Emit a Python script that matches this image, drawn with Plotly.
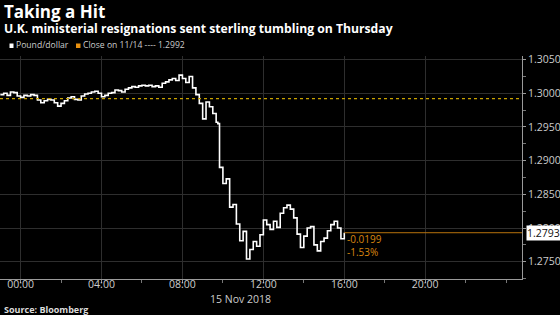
import plotly.graph_objects as go

times = [
"2018-11-14 23:00","2018-11-14 23:10","2018-11-14 23:20","2018-11-14 23:30","2018-11-14 23:40","2018-11-14 23:50",
"2018-11-15 00:00","2018-11-15 00:10","2018-11-15 00:20","2018-11-15 00:30","2018-11-15 00:40","2018-11-15 00:50",
"2018-11-15 01:00","2018-11-15 01:10","2018-11-15 01:20","2018-11-15 01:30","2018-11-15 01:40","2018-11-15 01:50",
"2018-11-15 02:00","2018-11-15 02:10","2018-11-15 02:20","2018-11-15 02:30","2018-11-15 02:40","2018-11-15 02:50",
"2018-11-15 03:00","2018-11-15 03:10","2018-11-15 03:20","2018-11-15 03:30","2018-11-15 03:40","2018-11-15 03:50",
"2018-11-15 04:00","2018-11-15 04:10","2018-11-15 04:20","2018-11-15 04:30","2018-11-15 04:40","2018-11-15 04:50",
"2018-11-15 05:00","2018-11-15 05:10","2018-11-15 05:20","2018-11-15 05:30","2018-11-15 05:40","2018-11-15 05:50",
"2018-11-15 06:00","2018-11-15 06:10","2018-11-15 06:20","2018-11-15 06:30","2018-11-15 06:40","2018-11-15 06:50",
"2018-11-15 07:00","2018-11-15 07:10","2018-11-15 07:20","2018-11-15 07:30","2018-11-15 07:40","2018-11-15 07:50",
"2018-11-15 08:00","2018-11-15 08:10","2018-11-15 08:20","2018-11-15 08:30","2018-11-15 08:40","2018-11-15 08:50",
"2018-11-15 09:00","2018-11-15 09:10","2018-11-15 09:20","2018-11-15 09:30","2018-11-15 09:40","2018-11-15 09:45",
"2018-11-15 09:50","2018-11-15 10:00","2018-11-15 10:10","2018-11-15 10:20","2018-11-15 10:30","2018-11-15 10:40",
"2018-11-15 10:50","2018-11-15 11:00","2018-11-15 11:10","2018-11-15 11:20","2018-11-15 11:30","2018-11-15 11:40",
"2018-11-15 11:50","2018-11-15 12:00","2018-11-15 12:10","2018-11-15 12:20","2018-11-15 12:30","2018-11-15 12:40",
"2018-11-15 12:50","2018-11-15 13:00","2018-11-15 13:10","2018-11-15 13:20","2018-11-15 13:30","2018-11-15 13:40",
"2018-11-15 13:50","2018-11-15 14:00","2018-11-15 14:10","2018-11-15 14:20","2018-11-15 14:30","2018-11-15 14:40",
"2018-11-15 14:50","2018-11-15 15:00","2018-11-15 15:10","2018-11-15 15:20","2018-11-15 15:30","2018-11-15 15:40",
"2018-11-15 15:50","2018-11-15 16:00",
]
pound_dollar = [
1.2998,1.3000,1.2997,1.3002,1.3001,1.2996,
1.2994,1.2997,1.2996,1.2998,1.2997,1.2990,
1.2986,1.2989,1.2991,1.2990,1.2986,1.2981,
1.2985,1.2989,1.2993,1.2995,1.2991,1.2990,
1.2996,1.2999,1.3000,1.3002,1.3003,1.3000,
1.2995,1.2997,1.3000,1.3001,1.3005,1.3004,
1.3002,1.3006,1.3008,1.3010,1.3009,1.3011,
1.3012,1.3011,1.3012,1.3010,1.3011,1.3009,
1.3015,1.3017,1.3020,1.3022,1.3019,1.3027,
1.3022,1.3016,1.3025,1.3008,1.2998,1.2985,
1.2962,1.2987,1.2980,1.2970,1.2957,1.2955,
1.2890,1.2866,1.2873,1.2831,1.2835,1.2806,
1.2781,1.2795,1.2754,1.2768,1.2780,1.2773,
1.2790,1.2812,1.2805,1.2798,1.2810,1.2801,
1.2822,1.2830,1.2834,1.2828,1.2815,1.2791,
1.2771,1.2788,1.2800,1.2802,1.2775,1.2766,
1.2780,1.2785,1.2796,1.2805,1.2810,1.2800,
1.2784,1.2793,
]
prev_close = 1.2992
last_value = 1.2793
change_abs = "-0.0199"
change_pct = "-1.53%"
y_ticks = [1.2750, 1.2800, 1.2850, 1.2900, 1.2950, 1.3000, 1.3050]
x_ticks = ["2018-11-15 00:00","2018-11-15 04:00","2018-11-15 08:00","2018-11-15 12:00","2018-11-15 16:00","2018-11-15 20:00"]
x_tick_labels = ["00:00","04:00","08:00","12:00","16:00","20:00"]
x_range = ["2018-11-14 22:59","2018-11-16 00:47"]
y_range = [1.27243, 1.30554]

W, H = 560, 315
L, R, T, B = 0, 38, 56, 36
PW, PH = W - L - R, H - T - B
def px(x): return (x - L) / PW
def py(y): return (H - B - y) / PH

FONT = "Open Sans"
ORANGE = "#d9860f"

fig = go.Figure()
fig.add_trace(go.Scatter(x=times, y=pound_dollar, mode="lines", line=dict(color="white", width=1.6, shape="hv"), showlegend=False))
fig.add_trace(go.Scatter(x=[times[-1], x_range[1]], y=[last_value, last_value], mode="lines",
                         line=dict(color="#b8720c", width=1), showlegend=False))

fig.add_shape(type="line", xref="paper", yref="y", x0=0, x1=1, y0=prev_close, y1=prev_close,
              line=dict(color="#c9a200", width=1.2, dash="dot"))

ann = []
ann.append(dict(text="<b>Taking a Hit</b>", x=px(2), y=py(11), xanchor="left", yanchor="middle",
                font=dict(family=FONT, size=17, color="white")))
ann.append(dict(text="<b>U.K. ministerial resignations sent sterling tumbling on Thursday</b>", x=px(2), y=py(28.5),
                xanchor="left", yanchor="middle", font=dict(family=FONT, size=12.2, color="white")))
ann.append(dict(text="Pound/dollar", x=px(14), y=py(45.5), xanchor="left", yanchor="middle",
                font=dict(family=FONT, size=8.6, color="#cccccc")))
ann.append(dict(text="Close on 11/14 ---- " + f"{prev_close:.4f}", x=px(81), y=py(45.5), xanchor="left", yanchor="middle",
                font=dict(family=FONT, size=8.6, color="#cccccc")))
ann.append(dict(text="<b>Source: Bloomberg</b>", x=px(2), y=py(309.5), xanchor="left", yanchor="middle",
                font=dict(family=FONT, size=9, color="#dddddd")))
ann.append(dict(text="15 Nov 2018", x=px(273), y=py(298.5), xanchor="right", yanchor="middle",
                font=dict(family=FONT, size=10.5, color="#cccccc")))
ann.append(dict(text=change_abs, x=times[-1], xref="x", y=py(238.5), xanchor="left", yanchor="middle", xshift=1,
                font=dict(family=FONT, size=10, color=ORANGE)))
ann.append(dict(text=change_pct, x=times[-1], xref="x", y=py(251.5), xanchor="left", yanchor="middle", xshift=1,
                font=dict(family=FONT, size=10, color=ORANGE)))
ann.append(dict(text=f"{last_value:.4f}", x=1, y=last_value, yref="y", xanchor="left", yanchor="middle", xshift=4,
                bgcolor="white", borderpad=0, font=dict(family=FONT, size=10.5, color="#111111")))
for a in ann:
    a.setdefault("xref", "paper")
    a.setdefault("yref", "paper")
    a["showarrow"] = False
fig.update_layout(annotations=ann)

fig.add_shape(type="rect", xref="paper", yref="paper", x0=px(9.5), x1=px(13.5), y0=py(48), y1=py(43.5),
              fillcolor="white", line=dict(width=0))
fig.add_shape(type="rect", xref="paper", yref="paper", x0=px(76), x1=px(80.5), y0=py(48), y1=py(43.5),
              fillcolor="#e8900f", line=dict(width=0))

fig.update_layout(
    width=W, height=H, margin=dict(l=L, r=R, t=T, b=B),
    paper_bgcolor="black", plot_bgcolor="black",
    xaxis=dict(type="date", range=x_range, tickvals=x_ticks, ticktext=x_tick_labels,
               showgrid=True, gridcolor="#2e2e2e", gridwidth=1,
               showline=True, linecolor="#9a9a9a", linewidth=1,
               ticks="outside", ticklen=3, tickcolor="#9a9a9a", ticklabelstandoff=-8,
               minor=dict(dtick=7200000, ticks="outside", ticklen=3, tickcolor="#777777", showgrid=False),
               tickfont=dict(family=FONT, size=10.5, color="#cccccc"), zeroline=False),
    yaxis=dict(range=y_range, side="right", tickvals=y_ticks, ticktext=[f"{v:.4f}" for v in y_ticks],
               showgrid=True, gridcolor="#2e2e2e", gridwidth=1,
               showline=True, linecolor="#9a9a9a", linewidth=1,
               ticks="outside", ticklen=3, tickcolor="#9a9a9a",
               minor=dict(dtick=0.0025, tick0=1.2750, ticks="outside", ticklen=3, tickcolor="#777777", showgrid=False),
               tickfont=dict(family=FONT, size=10.5, color="#cccccc"), zeroline=False),
)

fig.write_html("out.html")
